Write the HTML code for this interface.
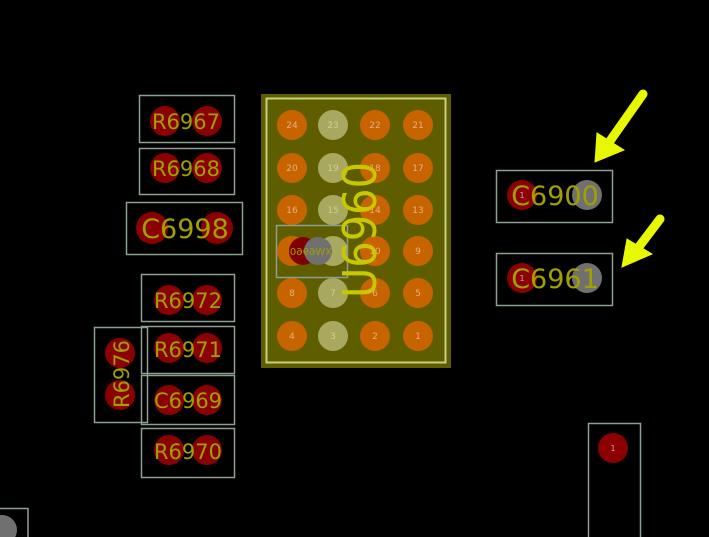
<!DOCTYPE html>
<html><head><meta charset="utf-8"><style>
html,body{margin:0;padding:0;background:#000;width:709px;height:537px;overflow:hidden}
svg{display:block}
text{font-family:"DejaVu Sans","Liberation Sans",sans-serif}
</style></head><body>
<svg width="709" height="537" viewBox="0 0 709 537" xmlns="http://www.w3.org/2000/svg">
<rect width="709" height="537" fill="#000"/>
<!-- chip -->
<rect x="261" y="94" width="190" height="274" fill="#5e5e00"/>
<rect x="266.5" y="98.5" width="179" height="264" fill="none" stroke="#c8d080" stroke-width="2"/>
<g font-size="9" text-anchor="middle" fill="#e0b080">
<g fill="#c86400">
<circle cx="292" cy="125" r="15"/><circle cx="375" cy="125" r="15"/><circle cx="418" cy="125" r="15"/>
<circle cx="292" cy="168" r="15"/><circle cx="375" cy="168" r="15"/><circle cx="418" cy="168" r="15"/>
<circle cx="292" cy="210" r="15"/><circle cx="375" cy="210" r="15"/><circle cx="418" cy="210" r="15"/>
<circle cx="292" cy="251" r="15"/><circle cx="375" cy="251" r="15"/><circle cx="418" cy="251" r="15"/>
<circle cx="292" cy="293" r="15"/><circle cx="375" cy="293" r="15"/><circle cx="418" cy="293" r="15"/>
<circle cx="292" cy="336" r="15"/><circle cx="375" cy="336" r="15"/><circle cx="418" cy="336" r="15"/>
</g>
<g fill="#a8a860">
<circle cx="333" cy="125" r="15"/><circle cx="333" cy="168" r="15"/><circle cx="333" cy="210" r="15"/>
<circle cx="333" cy="251" r="15"/><circle cx="333" cy="293" r="15"/><circle cx="333" cy="336" r="15"/>
</g>
<text x="292" y="128">24</text><text x="333" y="128" fill="#d0d090">23</text><text x="375" y="128">22</text><text x="418" y="128">21</text>
<text x="292" y="171">20</text><text x="333" y="171" fill="#d0d090">19</text><text x="375" y="171">18</text><text x="418" y="171">17</text>
<text x="292" y="213">16</text><text x="333" y="213" fill="#d0d090">15</text><text x="375" y="213">14</text><text x="418" y="213">13</text>
<text x="375" y="254">10</text><text x="418" y="254">9</text>
<text x="292" y="296">8</text><text x="333" y="296" fill="#d0d090">7</text><text x="375" y="296">6</text><text x="418" y="296">5</text>
<text x="292" y="339">4</text><text x="333" y="339" fill="#d0d090">3</text><text x="375" y="339">2</text><text x="418" y="339">1</text>
</g>
<circle cx="303" cy="251" r="14" fill="#800000"/>
<circle cx="318" cy="251" r="14" fill="#707070"/>
<rect x="276.5" y="225.5" width="71" height="52" fill="none" stroke="#8ca090" stroke-width="1.5"/>
<text x="-311" y="255" font-size="10" fill="#a0a000" text-anchor="middle" transform="scale(-1 1)">XW6960</text>
<text transform="translate(376 230) rotate(-90)" font-size="46" fill="#c8c800" text-anchor="middle" textLength="136" lengthAdjust="spacingAndGlyphs">U6960</text>

<!-- left components -->
<g fill="#8b0000">
<circle cx="165" cy="121" r="15"/><circle cx="207" cy="121" r="15"/>
<circle cx="165" cy="168" r="15"/><circle cx="207" cy="168" r="15"/>
<circle cx="152" cy="228" r="16"/><circle cx="217" cy="228" r="16"/>
<circle cx="169" cy="300" r="15"/><circle cx="207" cy="300" r="15"/>
<circle cx="169" cy="348" r="15"/><circle cx="207" cy="348" r="15"/>
<circle cx="120" cy="353" r="15"/><circle cx="120" cy="395" r="15"/>
<circle cx="169" cy="400" r="15"/><circle cx="207" cy="400" r="15"/>
<circle cx="169" cy="450" r="15"/><circle cx="207" cy="450" r="15"/>
<circle cx="522" cy="195" r="15"/><circle cx="522" cy="278" r="15"/>
<circle cx="613" cy="448" r="15"/>
</g>
<g fill="#707070">
<circle cx="587" cy="195" r="15"/><circle cx="587" cy="278" r="15"/><circle cx="2" cy="530" r="15"/>
</g>
<g fill="none" stroke="#8ca090" stroke-width="1.5">
<rect x="139.5" y="95.5" width="95" height="47"/>
<rect x="139.5" y="148.5" width="95" height="46"/>
<rect x="126.5" y="202.5" width="116" height="52"/>
<rect x="141.5" y="274.5" width="93" height="47"/>
<rect x="141.5" y="326.5" width="93" height="47"/>
<rect x="94.5" y="327.5" width="53" height="95"/>
<rect x="141.5" y="375.5" width="93" height="49"/>
<rect x="141.5" y="428.5" width="93" height="49"/>
<rect x="496.5" y="170.5" width="116" height="52"/>
<rect x="496.5" y="253.5" width="116" height="52"/>
<rect x="588.5" y="423.5" width="52" height="120"/>
<rect x="-5" y="508.5" width="33" height="40"/>
</g>
<g fill="#a0a000" font-size="21" text-anchor="middle">
<text x="186" y="129">R6967</text>
<text x="186" y="176">R6968</text>
<text x="185" y="238" font-size="27">C6998</text>
<text x="188" y="308">R6972</text>
<text x="188" y="357">R6971</text>
<text x="188" y="408">C6969</text>
<text x="188" y="459">R6970</text>
<text transform="translate(129 374) rotate(-90)">R6976</text>
<text x="555" y="205" font-size="27">C6900</text>
<text x="555" y="288" font-size="27">C6961</text>
</g>
<g fill="#d0a0a0" font-size="8" text-anchor="middle">
<text x="613" y="451">1</text><text x="522" y="198">1</text><text x="522" y="281">1</text>
</g>
<!-- arrows -->
<g fill="#e8f800" stroke="#e8f800">
<line x1="643" y1="94" x2="610" y2="141" stroke-width="9" stroke-linecap="round"/>
<polygon points="595,162 597,133 624,150" stroke-width="1"/>
<line x1="660" y1="219" x2="638" y2="248" stroke-width="9" stroke-linecap="round"/>
<polygon points="622,267 627,239 652,254" stroke-width="1"/>
</g>
</svg>
</body></html>
